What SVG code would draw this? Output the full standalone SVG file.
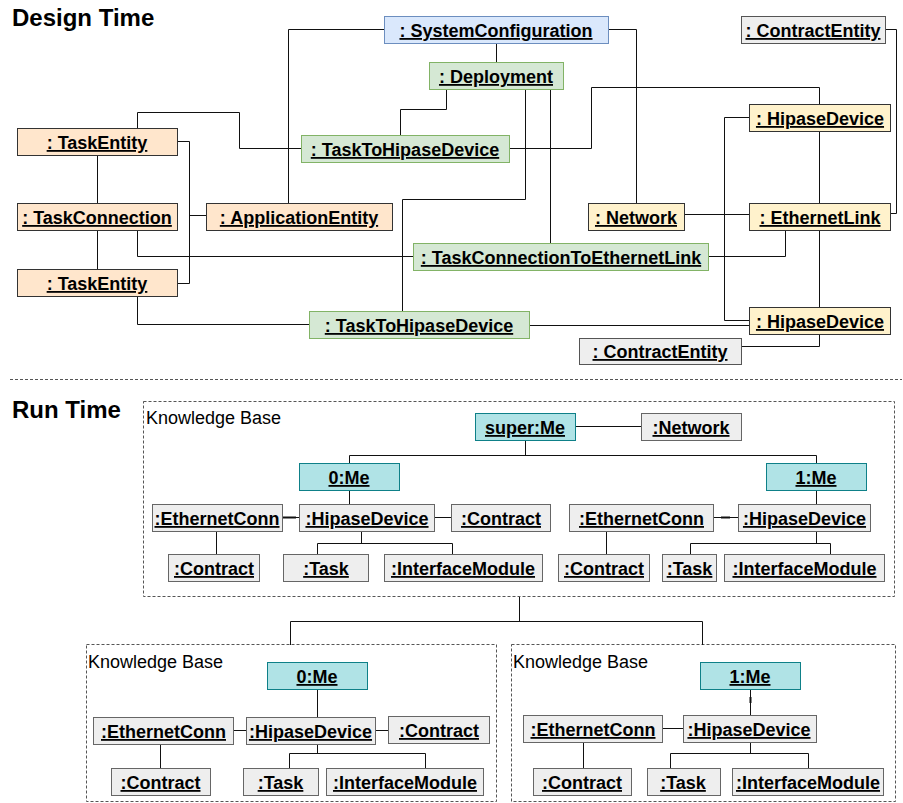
<svg xmlns="http://www.w3.org/2000/svg" width="903" height="803" viewBox="0 0 903 803">
  <style>
    .bg { fill: #ffffff; }
    .title { font-family: "Liberation Sans", Arial, sans-serif; font-weight: bold; font-size: 24px; fill: #000; }
    .kb-label { font-family: "Liberation Sans", Arial, sans-serif; font-size: 18px; fill: #000; }
    .node text { font-family: "Liberation Sans", Arial, sans-serif; font-weight: bold; font-size: 18px; fill: #000; text-anchor: middle; text-decoration: underline; }
    .node rect { stroke-width: 1; }
    .orange rect { fill: #ffe6cc; stroke: #333333; }
    .yellow rect { fill: #fff2cc; stroke: #333333; }
    .blue rect { fill: #dae8fc; stroke: #6c8ebf; }
    .green rect { fill: #d5e8d4; stroke: #82b366; }
    .gray rect { fill: #eeeeee; stroke: #555555; }
    .rt rect { fill: #eeeeee; stroke: #666666; }
    .me rect { fill: #b0e3e6; stroke: #0e8088; }
    .wire { fill: none; stroke: #111111; stroke-width: 1; }
    .thick { fill: none; stroke: #111111; stroke-width: 2; }
    .dotted { fill: none; stroke: #555555; stroke-width: 1; stroke-dasharray: 3 2; }
  </style>

  <rect class="bg" x="0" y="0" width="903" height="803"/>

  <!-- section headings -->
  <text class="title" x="12" y="26">Design Time</text>
  <text class="title" x="12" y="418">Run Time</text>

  <!-- separator between the two sections -->
  <path class="dotted" d="M10 379.5 H902"/>

  <!-- knowledge base containers -->
  <g id="kb-super">
    <rect class="dotted" x="143.5" y="401.5" width="751" height="195"/>
    <text class="kb-label" x="146" y="424">Knowledge Base</text>
  </g>
  <g id="kb-0">
    <rect class="dotted" x="86.5" y="644.5" width="410" height="157"/>
    <text class="kb-label" x="88" y="668">Knowledge Base</text>
  </g>
  <g id="kb-1">
    <rect class="dotted" x="511.5" y="644.5" width="384" height="157"/>
    <text class="kb-label" x="513" y="668">Knowledge Base</text>
  </g>

  <!-- connectors -->
  <g id="connectors">
    <!-- design time -->
    <path class="wire" d="M97.5 155 V203"/>
    <path class="wire" d="M97.5 230 V269"/>
    <path class="wire" d="M177 141.5 H189.5 V283.5 H177"/>
    <path class="wire" d="M189.5 215.5 H206"/>
    <path class="wire" d="M137.5 128 V112.5 H239.5 V148.5 H301"/>
    <path class="wire" d="M137.5 230 V256.5 H413"/>
    <path class="wire" d="M137.5 296 V324.5 H309"/>
    <path class="wire" d="M384 29.5 H288.5 V203"/>
    <path class="wire" d="M608 29.5 H636.5 V203"/>
    <path class="wire" d="M496.5 43 V62"/>
    <path class="wire" d="M446.5 89 V109.5 H400.5 V135"/>
    <path class="wire" d="M525.5 89 V199.5 H402.5 V311"/>
    <path class="wire" d="M550.5 89 V243"/>
    <path class="wire" d="M509 148.5 H591.5 V87.5 H819.5 V104"/>
    <path class="wire" d="M749 117.5 H724.5 V320.5 H749"/>
    <path class="wire" d="M819.5 131 V203"/>
    <path class="wire" d="M885 29.5 H896.5 V213.5 H890"/>
    <path class="wire" d="M684 214.5 H749"/>
    <path class="wire" d="M785.5 230 V256.5 H708"/>
    <path class="wire" d="M819.5 230 V307"/>
    <path class="wire" d="M529 325.5 H749"/>
    <path class="wire" d="M819.5 334 V346.5 H741"/>

    <!-- run time: shared knowledge base -->
    <path class="wire" d="M575 426.5 H641"/>
    <path class="wire" d="M525.5 440 V455.5"/>
    <path class="wire" d="M349.5 463 V455.5 H816.5 V463"/>
    <path class="wire" d="M349.5 490 V504"/>
    <path class="wire" d="M282 517.5 H299"/>
    <path class="thick" d="M282 517.5 H296"/>
    <path class="wire" d="M434 517.5 H451"/>
    <path class="wire" d="M216.5 531 V554"/>
    <path class="wire" d="M361.5 531 V543.5"/>
    <path class="wire" d="M317.5 554 V543.5 H452.5 V554"/>
    <path class="wire" d="M713 517.5 H738"/>
    <path class="thick" d="M721 517.5 H730"/>
    <path class="wire" d="M816.5 490 V504"/>
    <path class="wire" d="M606.5 531 V554"/>
    <path class="wire" d="M816.5 531 V543.5"/>
    <path class="wire" d="M690.5 554 V543.5 H830.5 V554"/>

    <!-- run time: split into per-device knowledge bases -->
    <path class="wire" d="M519.5 597 V621.5"/>
    <path class="wire" d="M290.5 645 V621.5 H702.5 V645"/>

    <!-- knowledge base 0 -->
    <path class="wire" d="M317.5 689 V717"/>
    <path class="wire" d="M233 730.5 H246"/>
    <path class="wire" d="M375 730.5 H388"/>
    <path class="wire" d="M160.5 744 V768"/>
    <path class="wire" d="M317.5 744 V753.5"/>
    <path class="wire" d="M289.5 768 V753.5 H425.5 V768"/>

    <!-- knowledge base 1 -->
    <path class="wire" d="M750.5 689 V715"/>
    <path class="thick" d="M750.5 697 V703"/>
    <path class="wire" d="M662 728.5 H683"/>
    <path class="wire" d="M583.5 742 V768"/>
    <path class="wire" d="M750.5 742 V753.5"/>
    <path class="wire" d="M670.5 768 V753.5 H808.5 V768"/>
  </g>

  <!-- design time nodes -->
  <g id="task-entity-a" class="node orange"><rect x="17.5" y="128.5" width="160" height="27"/><text x="97" y="149">: TaskEntity</text></g>
  <g id="task-connection" class="node orange"><rect x="17.5" y="203.5" width="160" height="27"/><text x="97" y="224">: TaskConnection</text></g>
  <g id="task-entity-b" class="node orange"><rect x="17.5" y="269.5" width="160" height="27"/><text x="97" y="290">: TaskEntity</text></g>
  <g id="application-entity" class="node orange"><rect x="206.5" y="203.5" width="186" height="27"/><text x="299" y="224">: ApplicationEntity</text></g>
  <g id="system-configuration" class="node blue"><rect x="384.5" y="16.5" width="224" height="27"/><text x="496" y="37">: SystemConfiguration</text></g>
  <g id="deployment" class="node green"><rect x="429.5" y="62.5" width="134" height="27"/><text x="496" y="83">: Deployment</text></g>
  <g id="task-to-hipase-a" class="node green"><rect x="301.5" y="135.5" width="208" height="27"/><text x="405" y="156">: TaskToHipaseDevice</text></g>
  <g id="task-connection-to-ethernet-link" class="node green"><rect x="413.5" y="243.5" width="295" height="27"/><text x="561" y="264">: TaskConnectionToEthernetLink</text></g>
  <g id="task-to-hipase-b" class="node green"><rect x="309.5" y="311.5" width="220" height="27"/><text x="419" y="332">: TaskToHipaseDevice</text></g>
  <g id="network" class="node yellow"><rect x="588.5" y="203.5" width="96" height="27"/><text x="636" y="224">: Network</text></g>
  <g id="hipase-device-a" class="node yellow"><rect x="749.5" y="104.5" width="141" height="27"/><text x="820" y="125">: HipaseDevice</text></g>
  <g id="ethernet-link" class="node yellow"><rect x="749.5" y="203.5" width="141" height="27"/><text x="820" y="224">: EthernetLink</text></g>
  <g id="hipase-device-b" class="node yellow"><rect x="749.5" y="307.5" width="141" height="27"/><text x="820" y="328">: HipaseDevice</text></g>
  <g id="contract-entity-a" class="node gray"><rect x="741.5" y="16.5" width="144" height="27"/><text x="813" y="37">: ContractEntity</text></g>
  <g id="contract-entity-b" class="node gray"><rect x="579.5" y="338.5" width="162" height="26"/><text x="660" y="358">: ContractEntity</text></g>

  <!-- run time nodes: shared knowledge base -->
  <g id="super-me" class="node me"><rect x="475.5" y="413.5" width="100" height="27"/><text x="525" y="434">super:Me</text></g>
  <g id="rt-network" class="node rt"><rect x="641.5" y="413.5" width="100" height="27"/><text x="691" y="434">:Network</text></g>
  <g id="me-0" class="node me"><rect x="299.5" y="463.5" width="100" height="27"/><text x="349" y="484">0:Me</text></g>
  <g id="me-1" class="node me"><rect x="766.5" y="463.5" width="100" height="27"/><text x="816" y="484">1:Me</text></g>
  <g id="ethconn-0" class="node rt"><rect x="152.5" y="504.5" width="130" height="27"/><text x="217" y="525">:EthernetConn</text></g>
  <g id="hipase-0" class="node rt"><rect x="299.5" y="504.5" width="135" height="27"/><text x="367" y="525">:HipaseDevice</text></g>
  <g id="contract-0-side" class="node rt"><rect x="451.5" y="504.5" width="99" height="27"/><text x="501" y="525">:Contract</text></g>
  <g id="contract-0" class="node rt"><rect x="168.5" y="554.5" width="91" height="27"/><text x="214" y="575">:Contract</text></g>
  <g id="task-0" class="node rt"><rect x="283.5" y="554.5" width="85" height="27"/><text x="326" y="575">:Task</text></g>
  <g id="iface-0" class="node rt"><rect x="384.5" y="554.5" width="158" height="27"/><text x="463" y="575">:InterfaceModule</text></g>
  <g id="ethconn-1" class="node rt"><rect x="569.5" y="504.5" width="144" height="27"/><text x="641.5" y="525">:EthernetConn</text></g>
  <g id="hipase-1" class="node rt"><rect x="738.5" y="504.5" width="132" height="27"/><text x="804.5" y="525">:HipaseDevice</text></g>
  <g id="contract-1" class="node rt"><rect x="558.5" y="554.5" width="91" height="27"/><text x="604" y="575">:Contract</text></g>
  <g id="task-1" class="node rt"><rect x="662.5" y="554.5" width="54" height="27"/><text x="689.5" y="575">:Task</text></g>
  <g id="iface-1" class="node rt"><rect x="724.5" y="554.5" width="160" height="27"/><text x="804.5" y="575">:InterfaceModule</text></g>

  <!-- run time nodes: knowledge base 0 -->
  <g id="kb0-me" class="node me"><rect x="267.5" y="662.5" width="100" height="27"/><text x="317" y="683">0:Me</text></g>
  <g id="kb0-ethconn" class="node rt"><rect x="93.5" y="717.5" width="140" height="27"/><text x="163.5" y="738">:EthernetConn</text></g>
  <g id="kb0-hipase" class="node rt"><rect x="246.5" y="717.5" width="129" height="27"/><text x="310.5" y="738">:HipaseDevice</text></g>
  <g id="kb0-contract-side" class="node rt"><rect x="388.5" y="716.5" width="101" height="27"/><text x="439" y="737">:Contract</text></g>
  <g id="kb0-contract" class="node rt"><rect x="111.5" y="768.5" width="99" height="27"/><text x="160.5" y="789">:Contract</text></g>
  <g id="kb0-task" class="node rt"><rect x="243.5" y="768.5" width="75" height="27"/><text x="280.5" y="789">:Task</text></g>
  <g id="kb0-iface" class="node rt"><rect x="326.5" y="768.5" width="157" height="27"/><text x="405" y="789">:InterfaceModule</text></g>

  <!-- run time nodes: knowledge base 1 -->
  <g id="kb1-me" class="node me"><rect x="700.5" y="662.5" width="100" height="27"/><text x="750" y="683">1:Me</text></g>
  <g id="kb1-ethconn" class="node rt"><rect x="523.5" y="715.5" width="139" height="27"/><text x="593" y="736">:EthernetConn</text></g>
  <g id="kb1-hipase" class="node rt"><rect x="683.5" y="715.5" width="133" height="27"/><text x="749" y="736">:HipaseDevice</text></g>
  <g id="kb1-contract" class="node rt"><rect x="533.5" y="768.5" width="98" height="27"/><text x="582" y="789">:Contract</text></g>
  <g id="kb1-task" class="node rt"><rect x="647.5" y="768.5" width="73" height="27"/><text x="683" y="789">:Task</text></g>
  <g id="kb1-iface" class="node rt"><rect x="732.5" y="768.5" width="151" height="27"/><text x="808" y="789">:InterfaceModule</text></g>
</svg>
